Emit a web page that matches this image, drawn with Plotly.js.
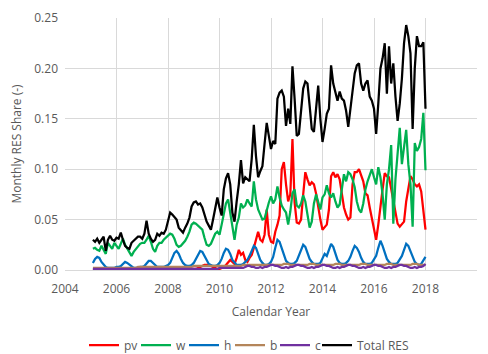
<!DOCTYPE html>
<html>
<head>
<meta charset="utf-8">
<script src="https://cdn.plot.ly/plotly-3.0.1.min.js"></script>
<style>
  html, body { margin: 0; padding: 0; background: #ffffff; }
  #chart { width: 488px; height: 354px; }
</style>
</head>
<body>
<div id="chart"></div>
<script>
// Monthly renewable shares, Jan 2005 .. Dec 2017 (12 values per row = one calendar year)
const firstYear = 2005;
const monthCount = 156;

const pv = [
  0.000,0.000,0.000,0.001,0.001,0.001,0.001,0.001,0.000,0.000,0.000,0.000,
  0.000,0.000,0.001,0.001,0.001,0.001,0.001,0.001,0.001,0.000,0.000,0.000,
  0.000,0.000,0.001,0.001,0.001,0.001,0.001,0.001,0.001,0.001,0.000,0.000,
  0.000,0.001,0.001,0.001,0.002,0.002,0.002,0.002,0.002,0.001,0.001,0.001,
  0.001,0.002,0.003,0.004,0.005,0.005,0.005,0.004,0.003,0.002,0.001,0.001,
  0.002,0.003,0.005,0.007,0.010,0.008,0.006,0.012,0.020,0.015,0.017,0.010,
  0.008,0.012,0.015,0.022,0.030,0.038,0.030,0.028,0.035,0.060,0.035,0.028,
  0.027,0.038,0.045,0.054,0.100,0.107,0.085,0.068,0.075,0.130,0.067,0.047,
  0.046,0.050,0.075,0.097,0.090,0.084,0.087,0.085,0.076,0.062,0.050,0.040,
  0.042,0.045,0.060,0.093,0.097,0.092,0.095,0.090,0.076,0.062,0.055,0.050,
  0.052,0.085,0.097,0.097,0.100,0.093,0.088,0.076,0.074,0.062,0.050,0.040,
  0.030,0.045,0.060,0.080,0.096,0.093,0.092,0.080,0.068,0.057,0.046,0.043,
  0.046,0.048,0.068,0.080,0.093,0.090,0.085,0.083,0.085,0.078,0.058,0.040
];

const wind = [
  0.021,0.022,0.020,0.019,0.024,0.020,0.016,0.027,0.024,0.021,0.027,0.024,
  0.021,0.026,0.031,0.025,0.021,0.017,0.014,0.018,0.021,0.024,0.026,0.027,
  0.027,0.030,0.034,0.028,0.021,0.018,0.024,0.027,0.027,0.030,0.032,0.035,
  0.036,0.035,0.031,0.025,0.023,0.024,0.026,0.029,0.033,0.038,0.045,0.047,
  0.046,0.044,0.042,0.040,0.032,0.025,0.024,0.026,0.031,0.036,0.038,0.035,
  0.045,0.055,0.066,0.070,0.055,0.040,0.030,0.045,0.052,0.066,0.062,0.064,
  0.070,0.066,0.063,0.088,0.070,0.060,0.054,0.050,0.051,0.060,0.067,0.073,
  0.066,0.070,0.083,0.072,0.064,0.060,0.057,0.045,0.058,0.076,0.080,0.064,
  0.062,0.066,0.074,0.068,0.056,0.042,0.048,0.066,0.075,0.068,0.060,0.072,
  0.075,0.084,0.076,0.072,0.076,0.068,0.062,0.065,0.082,0.095,0.088,0.097,
  0.095,0.090,0.082,0.068,0.060,0.057,0.066,0.080,0.088,0.095,0.100,0.092,
  0.085,0.102,0.092,0.075,0.050,0.085,0.100,0.124,0.046,0.090,0.115,0.141,
  0.105,0.120,0.139,0.105,0.085,0.043,0.126,0.118,0.122,0.130,0.156,0.099
];

const hydro = [
  0.007,0.011,0.013,0.012,0.008,0.005,0.003,0.002,0.002,0.002,0.002,0.003,
  0.003,0.004,0.006,0.008,0.007,0.005,0.003,0.002,0.002,0.002,0.003,0.003,
  0.004,0.006,0.009,0.009,0.007,0.005,0.003,0.003,0.003,0.003,0.004,0.005,
  0.007,0.012,0.017,0.019,0.016,0.011,0.007,0.005,0.004,0.004,0.005,0.007,
  0.011,0.016,0.019,0.018,0.014,0.009,0.006,0.005,0.004,0.004,0.005,0.007,
  0.011,0.017,0.021,0.020,0.016,0.010,0.007,0.005,0.005,0.005,0.006,0.008,
  0.010,0.014,0.020,0.024,0.022,0.016,0.010,0.007,0.005,0.005,0.006,0.008,
  0.013,0.022,0.030,0.028,0.021,0.014,0.009,0.007,0.006,0.006,0.007,0.009,
  0.014,0.020,0.025,0.023,0.017,0.011,0.008,0.006,0.006,0.006,0.007,0.012,
  0.016,0.014,0.020,0.026,0.023,0.016,0.010,0.007,0.006,0.006,0.007,0.009,
  0.013,0.019,0.024,0.022,0.018,0.012,0.008,0.006,0.006,0.006,0.007,0.010,
  0.014,0.022,0.029,0.024,0.017,0.011,0.008,0.006,0.006,0.006,0.007,0.010,
  0.014,0.020,0.026,0.024,0.018,0.012,0.008,0.006,0.005,0.006,0.009,0.013
];

const biomass = [
  0.002,0.002,0.002,0.002,0.002,0.002,0.002,0.002,0.002,0.002,0.002,0.002,
  0.002,0.002,0.002,0.002,0.002,0.002,0.002,0.002,0.002,0.003,0.003,0.003,
  0.003,0.003,0.003,0.003,0.003,0.003,0.003,0.003,0.003,0.003,0.003,0.003,
  0.003,0.003,0.003,0.003,0.003,0.003,0.003,0.003,0.003,0.003,0.003,0.004,
  0.004,0.004,0.004,0.004,0.004,0.004,0.004,0.004,0.004,0.004,0.004,0.004,
  0.004,0.004,0.004,0.004,0.004,0.004,0.004,0.004,0.004,0.004,0.005,0.005,
  0.005,0.005,0.005,0.005,0.005,0.005,0.005,0.005,0.005,0.005,0.005,0.005,
  0.005,0.005,0.005,0.005,0.005,0.006,0.006,0.006,0.005,0.005,0.005,0.005,
  0.005,0.005,0.005,0.005,0.005,0.006,0.006,0.006,0.005,0.005,0.005,0.005,
  0.005,0.005,0.005,0.005,0.005,0.006,0.006,0.006,0.005,0.005,0.005,0.005,
  0.005,0.005,0.005,0.005,0.005,0.006,0.006,0.006,0.005,0.005,0.005,0.005,
  0.005,0.005,0.005,0.005,0.005,0.006,0.006,0.006,0.005,0.005,0.005,0.005,
  0.005,0.005,0.005,0.005,0.005,0.006,0.006,0.006,0.005,0.005,0.005,0.005
];

const cogen = [
  0.001,0.001,0.001,0.001,0.001,0.001,0.001,0.001,0.001,0.001,0.001,0.001,
  0.001,0.001,0.001,0.001,0.001,0.001,0.001,0.001,0.001,0.001,0.001,0.001,
  0.001,0.001,0.001,0.001,0.001,0.001,0.001,0.001,0.001,0.001,0.001,0.001,
  0.001,0.001,0.001,0.001,0.001,0.001,0.001,0.001,0.001,0.001,0.001,0.001,
  0.001,0.001,0.001,0.001,0.001,0.001,0.001,0.001,0.001,0.001,0.001,0.002,
  0.002,0.002,0.002,0.002,0.002,0.002,0.002,0.002,0.002,0.002,0.002,0.003,
  0.004,0.004,0.003,0.003,0.002,0.002,0.003,0.002,0.003,0.003,0.004,0.005,
  0.005,0.004,0.004,0.003,0.002,0.002,0.003,0.002,0.003,0.003,0.004,0.005,
  0.005,0.004,0.004,0.003,0.002,0.002,0.003,0.002,0.003,0.003,0.004,0.005,
  0.005,0.004,0.004,0.003,0.002,0.002,0.003,0.002,0.003,0.003,0.004,0.005,
  0.005,0.004,0.004,0.003,0.002,0.002,0.003,0.002,0.003,0.003,0.004,0.005,
  0.005,0.004,0.004,0.003,0.002,0.002,0.003,0.002,0.003,0.003,0.004,0.005,
  0.005,0.004,0.004,0.003,0.002,0.002,0.003,0.002,0.003,0.003,0.004,0.006
];

const totalRes = [
  0.030,0.028,0.031,0.027,0.030,0.033,0.019,0.030,0.034,0.030,0.029,0.032,
  0.031,0.037,0.030,0.024,0.022,0.021,0.027,0.029,0.031,0.033,0.033,0.031,
  0.036,0.049,0.036,0.031,0.028,0.030,0.036,0.034,0.037,0.036,0.040,0.050,
  0.057,0.055,0.053,0.050,0.042,0.040,0.037,0.042,0.046,0.052,0.063,0.067,
  0.068,0.065,0.066,0.062,0.054,0.048,0.044,0.040,0.050,0.060,0.072,0.062,
  0.054,0.080,0.091,0.096,0.085,0.057,0.048,0.068,0.085,0.109,0.086,0.092,
  0.090,0.088,0.110,0.144,0.113,0.092,0.098,0.103,0.125,0.146,0.133,0.120,
  0.128,0.125,0.170,0.176,0.178,0.172,0.143,0.160,0.145,0.202,0.170,0.133,
  0.135,0.155,0.180,0.187,0.185,0.163,0.140,0.137,0.160,0.183,0.150,0.127,
  0.140,0.155,0.160,0.203,0.185,0.175,0.168,0.177,0.170,0.168,0.158,0.142,
  0.160,0.183,0.195,0.203,0.205,0.185,0.178,0.185,0.188,0.172,0.168,0.160,
  0.135,0.165,0.200,0.210,0.225,0.175,0.222,0.185,0.205,0.172,0.148,0.165,
  0.190,0.225,0.243,0.232,0.215,0.140,0.200,0.232,0.222,0.222,0.226,0.160
];

const seriesNames = ['pv', 'w', 'h', 'b', 'c', 'Total RES'];
const seriesColors = ['#ff0000', '#00b050', '#0070c0', '#b4855a', '#7030a0', '#000000'];
const seriesValues = [pv, wind, hydro, biomass, cogen, totalRes];

// one legend box per series so the key row can be packed tightly
const legendIds = ['legend', 'legend2', 'legend3', 'legend4', 'legend5', 'legend6'];
const legendLeftPx = [84, 136, 184, 230, 275, 317];

const xTickValues = [2004, 2006, 2008, 2010, 2012, 2014, 2016, 2018, 2020];

// decimal-year position of each month (end of month)
const monthX = [];
for (let i = 0; i < monthCount; i++) monthX.push(firstYear + (i + 1) / 12);

const traces = seriesValues.map((vals, k) => ({
  type: 'scatter',
  mode: 'lines',
  name: seriesNames[k],
  legend: legendIds[k],
  x: monthX,
  y: vals,
  line: { color: seriesColors[k], width: 2.25 },
  hoverinfo: 'x+y+name'
}));

const textGrey = '#595959';
const gridGrey = '#d9d9d9';
const chartWidth = 488;

const layout = {
  width: chartWidth,
  height: 354,
  paper_bgcolor: '#ffffff',
  plot_bgcolor: '#ffffff',
  margin: { l: 65, r: 11, t: 18, b: 84 },
  font: { family: 'Open Sans, Liberation Sans, sans-serif', size: 12, color: textGrey },
  showlegend: true,
  xaxis: {
    range: [2004, 2020],
    tickvals: xTickValues,
    ticktext: xTickValues.map(String),
    automargin: false,
    showgrid: true,
    gridcolor: gridGrey,
    gridwidth: 1,
    zeroline: false,
    showline: true,
    linecolor: gridGrey,
    linewidth: 1,
    ticks: '',
    ticklabelstandoff: 8,
    tickfont: { size: 12, color: textGrey },
    title: { text: 'Calendar Year', font: { size: 12, color: textGrey }, standoff: 11 }
  },
  yaxis: {
    range: [0, 0.25],
    dtick: 0.05,
    tickformat: '.2f',
    automargin: false,
    showgrid: true,
    gridcolor: gridGrey,
    gridwidth: 1,
    zeroline: false,
    showline: false,
    ticks: '',
    ticklabelstandoff: 6,
    tickfont: { size: 12, color: textGrey },
    title: { text: 'Monthly RES Share (-)', font: { size: 12, color: textGrey }, standoff: 10 }
  }
};

legendIds.forEach((id, k) => {
  layout[id] = {
    orientation: 'h',
    xref: 'container', yref: 'container',
    x: legendLeftPx[k] / chartWidth, xanchor: 'left',
    y: 0.025, yanchor: 'middle',
    font: { size: 12, color: textGrey },
    itemwidth: 30,
    bgcolor: 'rgba(0,0,0,0)'
  };
});

Plotly.newPlot('chart', traces, layout, { displayModeBar: false, staticPlot: true });
</script>
</body>
</html>
